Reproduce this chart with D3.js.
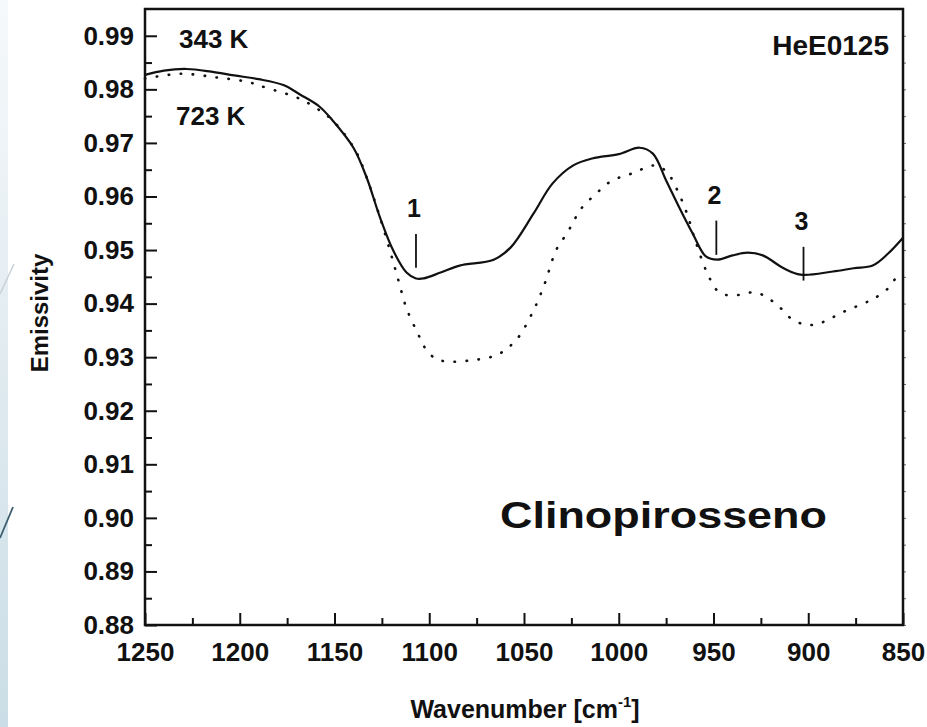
<!DOCTYPE html>
<html>
<head>
<meta charset="utf-8">
<script src="https://cdn.jsdelivr.net/npm/d3@7"></script>
<style>
  html, body { margin: 0; padding: 0; background: #ffffff; }
  svg { display: block; }
  text { font-family: "Liberation Sans", Arial, sans-serif; font-weight: bold; fill: #111; }
</style>
</head>
<body>
<svg id="chart" width="927" height="727"></svg>
<script>
// ---- data ----
const wave343 = [1250,1240,1228,1215,1203,1190,1177,1168,1158,1151,1140,1133,1126,1119,1112,1107,1103,1094,1084,1066,1057,1045,1035,1024,1014,1000,989,982,975,968,961,954,948,940,932,924,913,904,887,876,866,858,850];
const emis343 = [0.9827,0.9835,0.9838,0.9833,0.9826,0.9819,0.9808,0.9790,0.9768,0.9742,0.9691,0.9635,0.9561,0.9499,0.9458,0.9447,0.9447,0.9458,0.9471,0.9482,0.9505,0.9568,0.9624,0.9658,0.9671,0.9679,0.9691,0.9680,0.9630,0.9579,0.9531,0.9488,0.9482,0.9490,0.9495,0.9490,0.9466,0.9454,0.9460,0.9466,0.9471,0.9493,0.9523];

const wave723 = [1250,1231,1212,1196,1186,1170,1161,1151,1139,1133,1126,1120,1116,1112,1106,1102,1097,1091,1078,1065,1059,1053,1045,1039,1033,1027,1023,1019,1012,1006,1000,993,987,980,974,969,964,960,955,952,947,940,928,922,915,909,902,896,890,883,871,865,858,853,850];
const emis723 = [0.9820,0.9829,0.9822,0.9814,0.9803,0.9785,0.9768,0.9742,0.9686,0.9635,0.9561,0.9490,0.9440,0.9391,0.9344,0.9316,0.9298,0.9292,0.9294,0.9303,0.9316,0.9337,0.9387,0.9438,0.9500,0.9533,0.9559,0.9581,0.9605,0.9624,0.9635,0.9643,0.9652,0.9658,0.9643,0.9611,0.9568,0.9522,0.9471,0.9447,0.9421,0.9415,0.9421,0.9412,0.9393,0.9372,0.9361,0.9361,0.9369,0.9382,0.9400,0.9410,0.9428,0.9451,0.9458];

const xTicks = [1250,1200,1150,1100,1050,1000,950,900,850];
const yTicks = [0.88,0.89,0.90,0.91,0.92,0.93,0.94,0.95,0.96,0.97,0.98,0.99];

const bandLabels = ["1","2","3"];
const bandWave   = [1107, 948.5, 902.5];
const bandTop    = [0.9530, 0.9555, 0.9506];
const bandBottom = [0.9467, 0.9491, 0.9443];

const seriesLabels = ["343 K","723 K"];
const sampleLabel = "HeE0125";
const mineralLabel = "Clinopirosseno";

// ---- layout ----
const svg = d3.select("#chart");
const L = 145, R = 903, T = 9, B = 625;

// left decorative strip
const defs = svg.append("defs");
const grad = defs.append("linearGradient").attr("id","strip").attr("x1",0).attr("y1",0).attr("x2",0).attr("y2",1);
grad.append("stop").attr("offset","0%").attr("stop-color","#f6f9fb");
grad.append("stop").attr("offset","100%").attr("stop-color","#cbdde6");
svg.append("rect").attr("x",0).attr("y",0).attr("width",8).attr("height",727).attr("fill","url(#strip)");
svg.append("line").attr("x1",0).attr("y1",294).attr("x2",14).attr("y2",264).attr("stroke","#c9d1d6").attr("stroke-width",1.5);
svg.append("line").attr("x1",0).attr("y1",538).attr("x2",13).attr("y2",507).attr("stroke","#3d5e70").attr("stroke-width",1.8);

const x = d3.scaleLinear().domain([1250, 850]).range([L, R]);
const y = d3.scaleLinear().domain([0.88, 0.995]).range([B, T]);

// minor ticks
const xMinor = d3.range(1225, 850, -50);
const yMinor = d3.range(0.885, 0.995, 0.01);

const fmtY = d3.format(".2f");

const gx = svg.append("g").attr("transform", `translate(0,${B})`)
  .call(d3.axisBottom(x).tickValues(xTicks).tickSize(-12).tickSizeOuter(0).tickPadding(18).tickFormat(d3.format("d")));
const gxm = svg.append("g").attr("transform", `translate(0,${B})`)
  .call(d3.axisBottom(x).tickValues(xMinor).tickSize(-7).tickSizeOuter(0).tickFormat(""));
const gy = svg.append("g").attr("transform", `translate(${L},0)`)
  .call(d3.axisLeft(y).tickValues(yTicks).tickSize(-12).tickSizeOuter(0).tickPadding(11).tickFormat(fmtY));
const gym = svg.append("g").attr("transform", `translate(${L},0)`)
  .call(d3.axisLeft(y).tickValues(yMinor).tickSize(-7).tickSizeOuter(0).tickFormat(""));
const gyr = svg.append("g").attr("transform", `translate(${R},0)`)
  .call(d3.axisRight(y).tickValues(yTicks.concat(yMinor)).tickSize(3).tickSizeOuter(0).tickFormat(""));

[gx, gxm, gy, gym, gyr].forEach(g => {
  g.select(".domain").remove();
  g.selectAll(".tick line").attr("stroke", "#111").attr("stroke-width", 2);
  g.selectAll(".tick text").attr("font-size", 26).attr("font-family", "Liberation Sans, Arial, sans-serif").attr("font-weight","bold").attr("fill","#111");
});
gyr.selectAll(".tick line").attr("stroke-width", 1).attr("stroke","#666");

// frame
svg.append("rect").attr("x", L).attr("y", T).attr("width", R - L).attr("height", B - T)
  .attr("fill", "none").attr("stroke", "#111").attr("stroke-width", 2.5);

// curves
const line = d3.line().x(d => x(d[0])).y(d => y(d[1])).curve(d3.curveCatmullRom.alpha(0.5));
const d343 = wave343.map((w, i) => [w, emis343[i]]);
const d723 = wave723.map((w, i) => [w, emis723[i]]);

svg.append("path").datum(d723).attr("d", line).attr("fill","none")
  .attr("stroke","#111").attr("stroke-width",2.6).attr("stroke-linecap","round").attr("stroke-dasharray","0.5,11.5");
svg.append("path").datum(d343).attr("d", line).attr("fill","none")
  .attr("stroke","#111").attr("stroke-width",2.2);

// band markers
bandLabels.forEach((lab, i) => {
  svg.append("line").attr("x1", x(bandWave[i])).attr("x2", x(bandWave[i]))
    .attr("y1", y(bandTop[i])).attr("y2", y(bandBottom[i])).attr("stroke","#111").attr("stroke-width",1.8);
  svg.append("text").attr("x", x(bandWave[i]) - 2).attr("y", y(bandTop[i]) - 17)
    .attr("text-anchor","middle").attr("font-size", 25).text(lab);
});

// labels
svg.append("text").attr("x", 179).attr("y", 48).attr("font-size", 26).text(seriesLabels[0]);
svg.append("text").attr("x", 176).attr("y", 125).attr("font-size", 26).text(seriesLabels[1]);
svg.append("text").attr("x", 889).attr("y", 55).attr("text-anchor","end").attr("font-size", 28).text(sampleLabel);

svg.append("text").attr("x", 500).attr("y", 528)
  .attr("font-family", "Lato, 'Open Sans', sans-serif").attr("font-size", 36).attr("font-weight", 900)
  .attr("textLength", 327).attr("lengthAdjust","spacingAndGlyphs").text(mineralLabel);

// axis titles
svg.append("text").attr("transform", "translate(48,313) rotate(-90)").attr("text-anchor","middle")
  .attr("font-size", 24).text("Emissivity");

const xt = svg.append("text").attr("x", 525).attr("y", 718).attr("text-anchor","middle").attr("font-size", 25);
xt.append("tspan").text("Wavenumber [cm");
xt.append("tspan").attr("font-size", 15).attr("dy", -11).text("-1");
xt.append("tspan").attr("dy", 11).text("]");
</script>
</body>
</html>
